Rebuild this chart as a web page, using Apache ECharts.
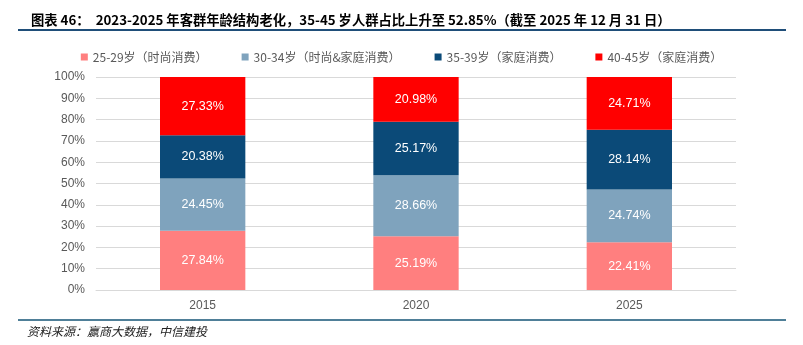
<!DOCTYPE html>
<html><head><meta charset="utf-8">
<script src="https://cdn.jsdelivr.net/npm/echarts@6/dist/echarts.min.js"></script>
<style>html,body{margin:0;padding:0;background:#fff}#c{width:803px;height:345px}</style>
</head><body><div id="c"></div>
<script>
var categories = ['2015', '2020', '2025'];
var seriesNames = ['25-29岁（时尚消费）', '30-34岁（时尚&家庭消费）', '35-39岁（家庭消费）', '40-45岁（家庭消费）'];
var s2529 = [27.84, 25.19, 22.41];
var s3034 = [24.45, 28.66, 24.74];
var s3539 = [20.38, 25.17, 28.14];
var s4045 = [27.33, 20.98, 24.71];
var yTicks = [0, 10, 20, 30, 40, 50, 60, 70, 80, 90, 100];
var colors = ['#ff7f7f', '#7fa3bd', '#0b4a78', '#ff0000'];
var titleText = '图表 46：  2023-2025 年客群年龄结构老化，35-45 岁人群占比上升至 52.85%（截至 2025 年 12 月 31 日）';
var sourceText = '资料来源：赢商大数据，中信建投';

var chart = echarts.init(document.getElementById('c'));
var data = [s2529, s3034, s3539, s4045];
chart.setOption({
  animation: false,
  color: colors,
  title: {
    text: titleText, left: 26, top: 8,
    textStyle: {fontFamily: 'Noto Sans CJK SC', fontWeight: 'bold', fontSize: 13.3, color: '#000'}
  },
  graphic: [
    {type: 'rect', shape: {x: 18, y: 29, width: 768, height: 2}, style: {fill: '#1f4e79'}},
    {type: 'rect', shape: {x: 18, y: 319, width: 768, height: 2}, style: {fill: '#4f7f98'}},
    {type: 'text', left: 27, top: 325, style: {text: sourceText, font: 'italic 12px "Noto Sans CJK SC"', fill: '#222'}}
  ],
  legend: {
    top: 46, left: 'center', itemWidth: 7, itemHeight: 7, itemGap: 34,
    icon: 'rect',
    textStyle: {color: '#595959', fontSize: 12, fontFamily: 'Noto Sans CJK SC'},
    data: seriesNames
  },
  grid: {left: 96, right: 67, top: 77, bottom: 55, containLabel: false},
  xAxis: {
    type: 'category', data: categories,
    axisLine: {show: true, lineStyle: {color: '#d9d9d9'}},
    axisTick: {show: false},
    axisLabel: {color: '#595959', fontSize: 12, margin: 10, fontFamily: 'Arial'}
  },
  yAxis: {
    type: 'value', min: 0, max: 100, interval: 10,
    axisLabel: {color: '#595959', fontSize: 12, formatter: '{value}%', margin: 11, fontFamily: 'Arial'},
    axisLine: {show: false}, axisTick: {show: false},
    splitLine: {lineStyle: {color: '#d9d9d9'}}
  },
  series: seriesNames.map(function (n, i) {
    return {
      name: n, type: 'bar', stack: 'total', barWidth: '40%',
      data: data[i],
      label: {show: true, position: 'inside', color: '#fff', fontSize: 12.5, fontFamily: 'Arial',
        formatter: function (p) { return p.value.toFixed(2) + '%'; }}
    };
  })
});
</script></body></html>
